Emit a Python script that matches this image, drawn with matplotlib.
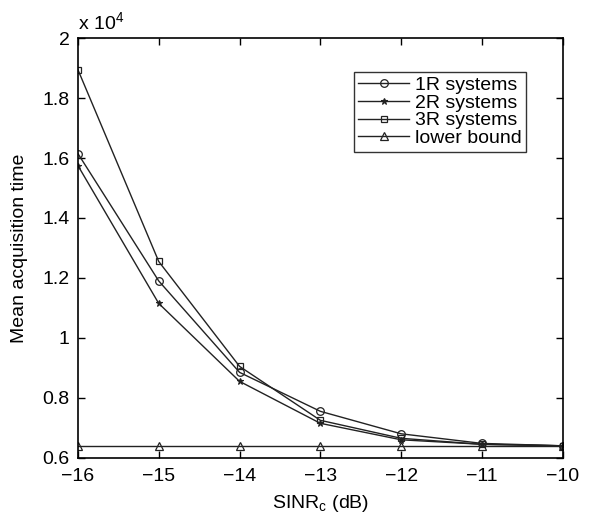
import matplotlib
matplotlib.use('Agg')
import matplotlib.pyplot as plt
import numpy as np

plt.rcParams['font.family'] = 'Liberation Sans'

# SINR values and mean acquisition times (x 1e4)
sinr = [-16, -15, -14, -13, -12, -11, -10]
sys1r = [1.615, 1.19, 0.885, 0.755, 0.68, 0.648, 0.64]
sys2r = [1.575, 1.115, 0.855, 0.715, 0.66, 0.645, 0.64]
sys3r = [1.895, 1.255, 0.905, 0.725, 0.665, 0.645, 0.64]
lower = [0.64, 0.64, 0.64, 0.64, 0.64, 0.64, 0.64]

fig = plt.figure(figsize=(5.9, 5.22), dpi=100)
ax = fig.add_axes([0.132, 0.123, 0.822, 0.804])

lc = '#222222'
ax.plot(sinr, sys1r, '-o', color=lc, lw=1, ms=5.5, mfc='none', mew=0.9, label='1R systems')
ax.plot(sinr, sys2r, '-*', color=lc, lw=1, ms=5, mew=0.8, label='2R systems')
ax.plot(sinr, sys3r, '-s', color=lc, lw=1, ms=4.5, mfc='none', mew=0.9, label='3R systems')
ax.plot(sinr, lower, '-^', color=lc, lw=1, ms=5.5, mfc='none', mew=0.9, label='lower bound')

ax.set_xlim(-16, -10)
ax.set_ylim(0.6, 2.0)
ax.set_xticks(sinr)
ax.set_xticklabels(['\u221216', '\u221215', '\u221214', '\u221213', '\u221212', '\u221211', '\u221210'])
ax.set_yticks([0.6, 0.8, 1.0, 1.2, 1.4, 1.6, 1.8, 2.0])
ax.set_yticklabels(['0.6', '0.8', '1', '1.2', '1.4', '1.6', '1.8', '2'])
ax.tick_params(direction='in', top=True, right=True, labelsize=14, length=5, width=1)
ax.tick_params(axis='x', pad=7)
ax.tick_params(axis='y', pad=6)
for s in ax.spines.values():
    s.set_linewidth(1.2)

ax.set_xlabel('SINR$_\\mathregular{c}$ (dB)', fontsize=14, labelpad=6)
ax.set_ylabel('Mean acquisition time', fontsize=14, labelpad=10)
ax.text(0.0, 1.01, 'x 10$^\\mathregular{4}$', transform=ax.transAxes, fontsize=14, va='bottom')

leg = ax.legend(loc='upper right', bbox_to_anchor=(0.925, 0.92), fontsize=14, frameon=True,
                fancybox=False, edgecolor='black', handlelength=2.6, handletextpad=0.3,
                labelspacing=0.0, borderpad=0.25, borderaxespad=0)
leg.get_frame().set_linewidth(1.0)

fig.savefig('out.png', dpi=100)
